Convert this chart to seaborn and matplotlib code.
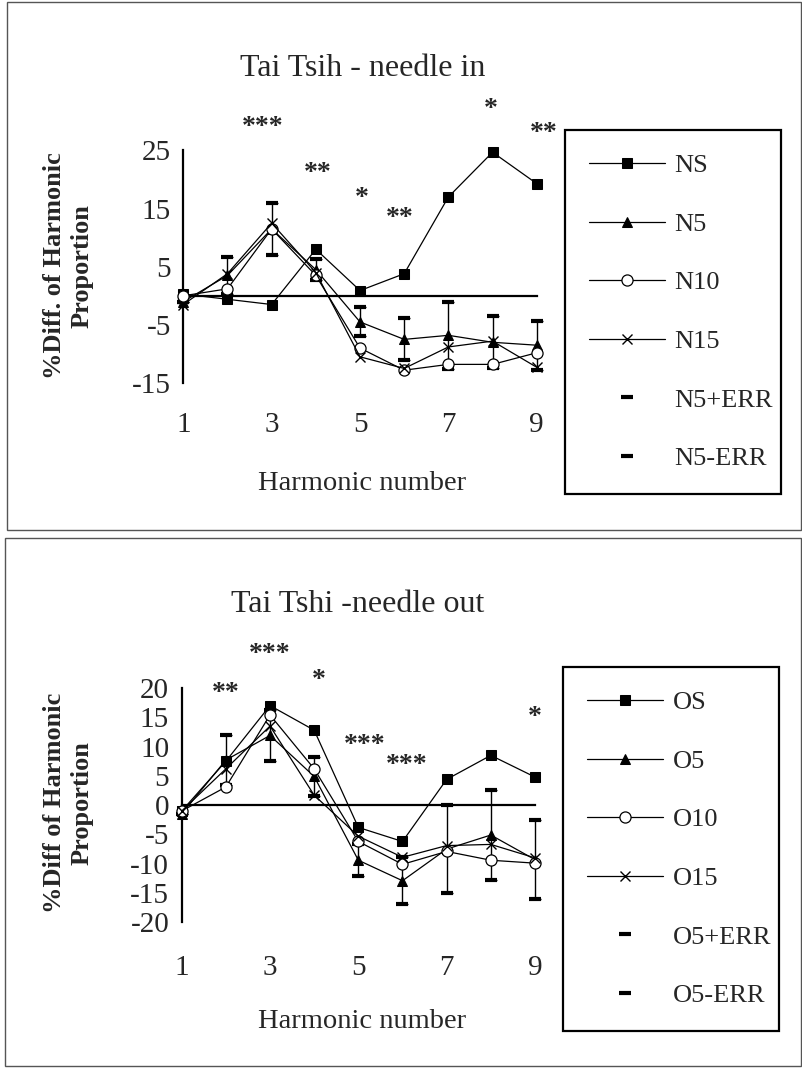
import matplotlib
matplotlib.use('Agg')
import matplotlib.pyplot as plt
import seaborn as sns
from matplotlib.patches import Rectangle

sns.set_theme(style='white')
plt.rcParams['font.family'] = ['Liberation Serif', 'DejaVu Serif']
plt.rcParams['axes.unicode_minus'] = False   # guion simple en los negativos

harmonicos = [1, 2, 3, 4, 5, 6, 7, 8, 9]

# Panel superior: needle in
ns = [0.3, -0.6, -1.5, 8.0, 0.9, 3.8, 17.0, 24.7, 19.3]
n5 = [-1.0, 3.5, 11.5, 4.5, -4.5, -7.5, -6.8, -8.0, -8.5]
n10 = [0.0, 1.2, 11.5, 3.5, -9.0, -12.8, -11.8, -11.8, -9.8]
n15 = [-1.5, 3.8, 12.5, 4.0, -10.5, -12.5, -8.8, -7.8, -12.3]
n5_err = [0.0, 3.2, 4.5, 1.8, 2.5, 3.6, 5.8, 4.5, 4.2]
estrellas_n_x = [2.8, 4.05, 5.05, 5.9, 7.95, 9.15]
estrellas_n_y = [28.9, 21.1, 16.7, 13.3, 32.0, 28.0]
estrellas_n = ['***', '**', '*', '**', '*', '**']

# Panel inferior: needle out
os_ = [-1.0, 7.5, 17.0, 12.8, -3.8, -6.2, 4.4, 8.5, 4.8]
o5 = [-1.5, 7.7, 11.9, 4.9, -9.4, -12.9, -7.5, -5.1, -9.3]
o10 = [-1.0, 3.1, 15.4, 6.2, -6.2, -10.1, -7.9, -9.4, -9.9]
o15 = [-1.0, 6.2, 13.5, 1.7, -5.3, -8.9, -6.9, -6.7, -9.0]
o5_err = [0.0, 4.2, 4.4, 3.3, 2.7, 4.0, 7.5, 7.7, 6.8]
estrellas_o_x = [2.0, 3.0, 4.1, 5.15, 6.1, 9.0]
estrellas_o_y = [19.0, 25.7, 21.2, 10.1, 6.8, 15.0]
estrellas_o = ['**', '***', '*', '***', '***', '*']


def panel(ax, series, nombres, err, estrellas, ylim, yticks, caja_leyenda, pad_x):
    estilos = [dict(marker='s', markersize=7.5, markerfacecolor='black', markeredgecolor='black'),
               dict(marker='^', markersize=7, markerfacecolor='black', markeredgecolor='black'),
               dict(marker='o', markersize=8, markerfacecolor='white', markeredgecolor='black', markeredgewidth=0.9),
               dict(marker='x', markersize=7, markeredgecolor='black', markeredgewidth=1.0)]
    for vals, nombre, est in zip(series, nombres, estilos):
        sns.lineplot(x=harmonicos, y=vals, ax=ax, color='black', linewidth=0.9,
                     label=nombre, clip_on=False, zorder=4, **est)
    base = series[1]
    # barras de error de la serie 5
    ax.errorbar(harmonicos, base, yerr=err, fmt='none', ecolor='black', elinewidth=1.0,
                capsize=4, capthick=1.0, zorder=3)
    sup = [v + e for v, e in zip(base, err)]
    inf = [v - e for v, e in zip(base, err)]
    ax.plot(harmonicos, sup, linestyle='', marker='_', markersize=9, markeredgewidth=3,
            color='black', label=nombres[1] + '+ERR', zorder=3)
    ax.plot(harmonicos, inf, linestyle='', marker='_', markersize=9, markeredgewidth=3,
            color='black', label=nombres[1] + '-ERR', zorder=3)

    for x, y, s in zip(*estrellas):
        ax.text(x, y, s, ha='center', va='center', fontsize=20, fontweight='bold',
                clip_on=False)

    ax.set_xlim(0.5, 9.5)
    ax.set_ylim(*ylim)
    ax.spines['top'].set_visible(False)
    ax.spines['right'].set_visible(False)
    ax.spines['left'].set_position(('data', 1))
    ax.spines['left'].set_bounds(*ylim)
    ax.spines['bottom'].set_position(('data', 0))
    ax.spines['bottom'].set_bounds(1, 9)
    for s in ['left', 'bottom']:
        ax.spines[s].set_color('black')
        ax.spines[s].set_linewidth(1.6)
    ax.set_yticks(yticks)
    ax.set_xticks(harmonicos)
    ax.set_xticklabels(['1', '', '3', '', '5', '', '7', '', '9'])
    ax.tick_params(axis='y', direction='inout', length=6, width=1.0, labelsize=21, pad=6, color='black')
    ax.tick_params(axis='x', direction='inout', length=6, width=1.0, labelsize=21, pad=pad_x, color='black')
    ax.set_facecolor('none')
    ax.set_xlabel('')
    ax.set_ylabel('')

    ley = ax.legend(loc='upper left', bbox_to_anchor=caja_leyenda, bbox_transform=fig.transFigure,
                    mode='expand', frameon=True, fancybox=False, edgecolor='black', fontsize=19,
                    handlelength=2.9, handletextpad=0.35, labelspacing=1.33, borderpad=0.9,
                    borderaxespad=0, framealpha=1)
    ley.get_frame().set_linewidth(1.6)


fig = plt.figure(figsize=(8.02, 10.68), dpi=100)

ax1 = fig.add_axes([0.201, 0.6414, 0.4958, 0.2177])
panel(ax1, [ns, n5, n10, n15], ['NS', 'N5', 'N10', 'N15'], n5_err,
      (estrellas_n_x, estrellas_n_y, estrellas_n), (-15, 25), [-15, -5, 5, 15, 25],
      (565 / 802, 1 - 491 / 1068, 216 / 802, 361 / 1068), 81)

ax2 = fig.add_axes([0.199, 0.1364, 0.4956, 0.2194])
panel(ax2, [os_, o5, o10, o15], ['OS', 'O5', 'O10', 'O15'], o5_err,
      (estrellas_o_x, estrellas_o_y, estrellas_o), (-20, 20), list(range(-20, 25, 5)),
      (563 / 802, 1 - 1028 / 1068, 216 / 802, 361 / 1068), 105)

# titulos y etiquetas
fig.text(363 / 802, 1 - 68 / 1068, 'Tai Tsih - needle in', ha='center', va='center', fontsize=23)
fig.text(358 / 802, 1 - 604 / 1068, 'Tai Tshi -needle out', ha='center', va='center', fontsize=23)
fig.text(362 / 802, 1 - 484 / 1068, 'Harmonic number', ha='center', va='center', fontsize=20.5)
fig.text(362 / 802, 1 - 1022 / 1068, 'Harmonic number', ha='center', va='center', fontsize=20.5)
fig.text(68 / 802, 1 - 266 / 1068, '%Diff. of Harmonic\nProportion', ha='center', va='center',
         rotation=90, fontsize=19, fontweight='bold', linespacing=1.25)
fig.text(68 / 802, 1 - 803 / 1068, '%Diff of Harmonic\nProportion', ha='center', va='center',
         rotation=90, fontsize=19, fontweight='bold', linespacing=1.25)

# marcos de cada panel
fig.patches.append(Rectangle((7 / 802, 1 - 530 / 1068), 794 / 802, 528 / 1068, transform=fig.transFigure,
                             fill=False, edgecolor='#555555', linewidth=1.0))
fig.patches.append(Rectangle((5 / 802, 1 - 1066 / 1068), 796 / 802, 528 / 1068, transform=fig.transFigure,
                             fill=False, edgecolor='#555555', linewidth=1.0))

plt.savefig('out.png', dpi=100)
